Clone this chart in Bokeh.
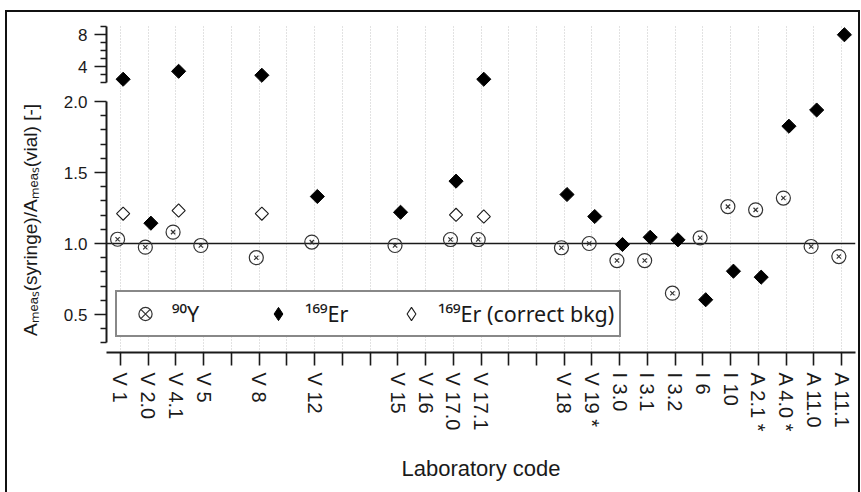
import math
from bokeh.plotting import figure
from bokeh.layouts import column
from bokeh.models import (Range1d, FixedTicker, PrintfTickFormatter, Span, Grid,
                          Legend, LegendItem, ColumnDataSource)
from bokeh.transform import dodge
from bokeh.embed import file_html
from bokeh.resources import INLINE

# ---------------- data ----------------
slots = list(range(27))
lab_pos = [0, 1, 2, 3, 5, 7, 10, 11, 12, 13, 16, 17, 18, 19, 20, 21, 22, 23, 24, 25, 26]
lab_codes = ["V 1", "V 2.0", "V 4.1", "V 5", "V 8", "V 12", "V 15", "V 16", "V 17.0", "V 17.1",
             "V 18", "V 19 *", "I 3.0", "I 3.1", "I 3.2", "I 6", "I 10", "A 2.1 *", "A 4.0 *",
             "A 11.0", "A 11.1"]

y90_pos = [0, 1, 2, 3, 5, 7, 10, 12, 13, 16, 17, 18, 19, 20, 21, 22, 23, 24, 25, 26]
y90_val = [1.03, 0.974, 1.08, 0.986, 0.90, 1.01, 0.986, 1.028, 1.028, 0.97, 1.0, 0.88, 0.88,
           0.65, 1.04, 1.26, 1.237, 1.32, 0.979, 0.908]

er_pos = [0, 1, 2, 5, 7, 10, 12, 13, 16, 17, 18, 19, 20, 21, 22, 23, 24, 25, 26]
er_val = [2.4, 1.143, 3.4, 2.9, 1.331, 1.22, 1.439, 2.4, 1.345, 1.19, 0.993, 1.044, 1.026,
          0.604, 0.805, 0.763, 1.826, 1.94, 8.0]

erc_pos = [0, 2, 5, 12, 13]
erc_val = [1.21, 1.232, 1.21, 1.202, 1.19]

low_major = [0.5, 1.0, 1.5, 2.0]
low_minor = [0.3, 0.4, 0.6, 0.7, 0.8, 0.9, 1.1, 1.2, 1.3, 1.4, 1.6, 1.7, 1.8, 1.9]
top_major = [4, 8]
top_minor = [2, 3, 5, 6, 7, 9]
break_at = 2.0

legend_labels = ["\u2079\u2070Y", "\u00b9\u2076\u2079Er", "\u00b9\u2076\u2079Er (correct bkg)"]
x_title = "Laboratory code"
y_title = "A\u2098\u2091\u2090\u209b(syringe)/A\u2098\u2091\u2090\u209b(vial) [-]"

# ---------------- layout constants (pixels) ----------------
FONT = "Liberation Sans"
INK = "#1a1a1a"
W = 851
TOP_H, BOT_H = 75, 405
TOP_FRAME = 63           # upper segment frame height
BOT_FRAME = 265          # lower segment frame height
PX_TOP = 7.945           # px per unit, upper segment
PX_LOW = 142.0           # px per unit, lower segment
top_hi = 9.29
top_lo = top_hi - TOP_FRAME / PX_TOP
low_lo = 0.2324
low_hi = low_lo + BOT_FRAME / PX_LOW

xr = Range1d(-0.5, 26.5)


def style_axis(ax, size):
    ax.axis_line_color = INK
    ax.axis_line_width = 2
    ax.major_tick_line_color = INK
    ax.major_tick_line_width = 1.6
    ax.minor_tick_line_color = INK
    ax.minor_tick_line_width = 1.6
    ax.major_tick_in = 0
    ax.minor_tick_in = 0
    ax.major_label_text_font = FONT
    ax.major_label_text_font_size = size
    ax.major_label_text_color = INK


def style_fig(f):
    f.outline_line_color = None
    f.background_fill_color = "white"
    f.border_fill_color = "white"


# ---------------- upper segment ----------------
pt = figure(width=W, height=TOP_H, x_range=xr, y_range=Range1d(top_lo, top_hi),
            x_axis_location=None, output_backend="svg", toolbar_location=None,
            min_border_left=99, min_border_right=3, min_border_top=12, min_border_bottom=0)
style_fig(pt)
for g in pt.grid:
    g.visible = False
pt.add_layout(Grid(dimension=0, ticker=FixedTicker(ticks=slots), grid_line_color="#c4c4c4",
                   grid_line_dash="1 2", grid_line_width=1))
yt = pt.yaxis[0]
yt.ticker = FixedTicker(ticks=top_major, minor_ticks=top_minor)
yt.formatter = PrintfTickFormatter(format="%d")
yt.bounds = (2, 9)
style_axis(yt, "17px")
yt.major_tick_out = 12
yt.minor_tick_out = 6
yt.major_label_standoff = 7

# ---------------- lower segment ----------------
pb = figure(width=W, height=BOT_H, x_range=xr, y_range=Range1d(low_lo, low_hi),
            output_backend="svg", toolbar_location=None,
            min_border_left=99, min_border_right=3, min_border_top=0, min_border_bottom=140)
style_fig(pb)
pb.ygrid.visible = False
pb.xgrid.ticker = FixedTicker(ticks=slots)
pb.xgrid.grid_line_color = "#c4c4c4"
pb.xgrid.grid_line_dash = "1 2"
pb.xgrid.grid_line_width = 1

ya = pb.yaxis[0]
ya.ticker = FixedTicker(ticks=low_major, minor_ticks=low_minor)
ya.formatter = PrintfTickFormatter(format="%.1f")
ya.bounds = (0.3, 2.0)
style_axis(ya, "17px")
ya.major_tick_out = 12
ya.minor_tick_out = 6
ya.major_label_standoff = 7
ya.axis_label = y_title
ya.axis_label_text_font = FONT
ya.axis_label_text_font_size = "19px"
ya.axis_label_text_font_style = "normal"
ya.axis_label_text_color = INK
ya.axis_label_standoff = 20

xa = pb.xaxis[0]
xa.ticker = FixedTicker(ticks=slots, minor_ticks=[])
overrides = {i: "" for i in slots}
for pos, code in zip(lab_pos, lab_codes):
    overrides[pos] = code
xa.major_label_overrides = overrides
xa.major_label_orientation = -math.pi / 2
style_axis(xa, "20px")
xa.major_tick_out = 13
xa.minor_tick_out = 0
xa.major_label_standoff = 7
xa.axis_label = x_title
xa.axis_label_text_font = FONT
xa.axis_label_text_font_size = "22px"
xa.axis_label_text_font_style = "normal"
xa.axis_label_text_color = INK
xa.axis_label_standoff = 20

pb.add_layout(Span(location=1.0, dimension="width", line_color=INK, line_width=1.6, level="underlay"))

# ---------------- data glyphs ----------------
src_y = ColumnDataSource(dict(x=y90_pos, y=y90_val))
lo = [(x, v) for x, v in zip(er_pos, er_val) if v <= break_at]
hi = [(x, v) for x, v in zip(er_pos, er_val) if v > break_at]
src_er_lo = ColumnDataSource(dict(x=[a for a, _ in lo], y=[b for _, b in lo]))
src_er_hi = ColumnDataSource(dict(x=[a for a, _ in hi], y=[b for _, b in hi]))
src_erc = ColumnDataSource(dict(x=erc_pos, y=erc_val))

r_yc = pb.scatter(x=dodge("x", -0.1), y="y", source=src_y, marker="circle", size=14,
                  fill_color=None, line_color="#333333", line_width=1.2)
r_yx = pb.scatter(x=dodge("x", -0.1), y="y", source=src_y, marker="x", size=6,
                  line_color="#333333", line_width=1.2)

# diamond-shaped keys (drawn beneath the rotated squares, used for the legend swatches)
k_erc = pb.scatter(x=dodge("x", 0.1), y="y", source=src_erc, marker="diamond", size=11,
                   fill_color="white", line_color=INK, line_width=1.1)
pb.scatter(x=dodge("x", 0.1), y="y", source=src_erc, marker="square", angle=math.pi / 4,
           size=9.3, fill_color="white", line_color=INK, line_width=1.1)
k_er = pb.scatter(x=dodge("x", 0.1), y="y", source=src_er_lo, marker="diamond", size=11,
                  fill_color="black", line_color="black", line_width=1)
pb.scatter(x=dodge("x", 0.1), y="y", source=src_er_lo, marker="square", angle=math.pi / 4,
           size=10, fill_color="black", line_color="black", line_width=1)
pt.scatter(x=dodge("x", 0.1), y="y", source=src_er_hi, marker="square", angle=math.pi / 4,
           size=10, fill_color="black", line_color="black", line_width=1)

legend = Legend(items=[LegendItem(label=legend_labels[0], renderers=[r_yc, r_yx]),
                       LegendItem(label=legend_labels[1], renderers=[k_er]),
                       LegendItem(label=legend_labels[2], renderers=[k_erc])],
                orientation="horizontal", location=(9, 15),
                glyph_width=46, glyph_height=33, label_standoff=4, label_width=83, spacing=0,
                padding=5, margin=0,
                label_text_font="Noto Sans", label_text_font_size="21.5px", label_text_color=INK,
                border_line_color="#111111", border_line_width=2,
                background_fill_color="white", background_fill_alpha=1.0)
pb.add_layout(legend)

layout = column(pt, pb, spacing=0)
layout.styles = {"margin-left": "5px", "margin-top": "10px",
                 "border-left": "2px solid #111", "border-top": "2px solid #111",
                 "border-right": "2px solid #111"}

open("out.html", "w").write(file_html(layout, INLINE))
